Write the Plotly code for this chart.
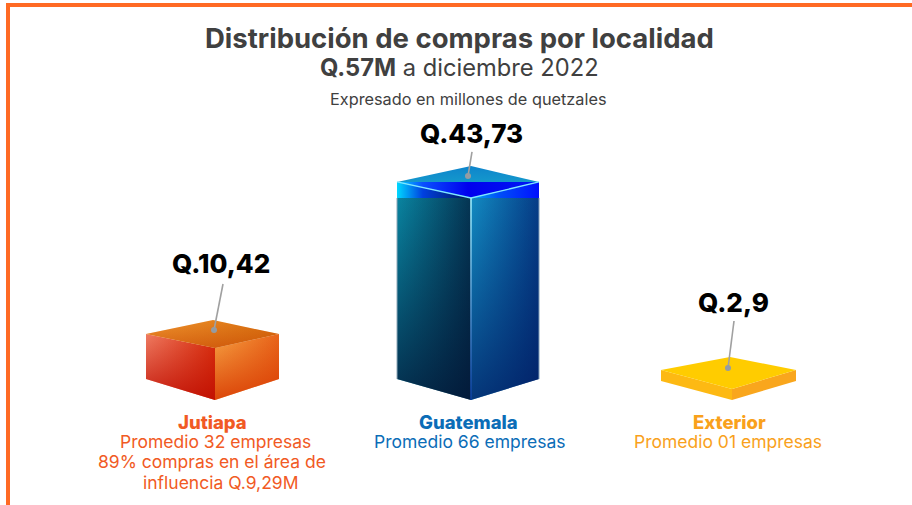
import plotly.graph_objects as go

# ---------- data ----------
categories = ["Jutiapa", "Guatemala", "Exterior"]
values = [10.42, 43.73, 2.9]
value_labels = ["Q.10,42", "Q.43,73", "Q.2,9"]
captions = [
    ["Promedio 32 empresas", "89% compras en el área de", "influencia Q.9,29M"],
    ["Promedio 66 empresas"],
    ["Promedio 01 empresas"],
]

# ---------- layout constants (pixels) ----------
W, H = 912, 505
BASE = 400            # pixel row of value 0
PX = 4.62             # pixels per value unit
FONT = "Inter, 'Open Sans', sans-serif"
TITLE_C = "#404040"
cat_colors = ["#F15A24", "#0B6DB7", "#F9A11B"]
exaggeration = [1.08, 1.0, 0.82]   # the infographic is not strictly to scale
geom = [
    dict(l=146, f=215, r=279, a=213, ctop=14, apex=28, cbot=21),
    dict(l=397, f=471, r=539, a=471, ctop=16, apex=32, cbot=21),
    dict(l=661, f=732, r=796, a=730, ctop=19, apex=32, cbot=19),
]
label_pos = [(221, 263), (471, 133), (733, 302)]
leaders = [(9, -46), (4, -24), (6, -47)]
dots = [(1, -4), (-3, -6), (-2, -5)]
cat_x = [212, 468, 729]
line_x = [[215, 212, 220], [470], [728]]


def u(px):
    return px / PX


fig = go.Figure()


def poly(xs, ys, c0, c1=None, mid=None, kind="horizontal", overlay=None):
    xs = list(xs) + [xs[0]]
    ys = list(ys) + [ys[0]]
    scale = [[0, c0], [1, c1 or c0]]
    if mid:
        scale = [[0, c0]] + mid + [[1, c1]]
    fig.add_trace(go.Scatter(x=xs, y=ys, mode="lines", line=dict(width=0), fill="toself",
                             fillgradient=dict(type=kind, colorscale=scale),
                             hoverinfo="skip", showlegend=False))
    if overlay:
        fig.add_trace(go.Scatter(x=xs, y=ys, mode="lines", line=dict(width=0), fill="toself",
                                 fillgradient=dict(type="vertical",
                                                   colorscale=[[0, overlay[1]], [1, overlay[0]]]),
                                 hoverinfo="skip", showlegend=False))


def seg(xs, ys, color, width):
    fig.add_trace(go.Scatter(x=xs, y=ys, mode="lines", line=dict(color=color, width=width),
                             hoverinfo="skip", showlegend=False))


for i, v in enumerate(values):
    g = geom[i]
    top = v * exaggeration[i]
    ctop, apex, cbot = top + u(g["ctop"]), top + u(g["apex"]), u(g["cbot"])
    L = ([g["l"], g["f"], g["f"], g["l"]], [ctop, top, 0, cbot])
    R = ([g["f"], g["r"], g["r"], g["f"]], [top, ctop, cbot, 0])
    T = ([g["l"], g["a"], g["r"], g["f"]], [ctop, apex, ctop, top])
    if i == 0:
        poly(*L, "#EF7C62", "#D9300F", overlay=("rgba(190,12,0,0)", "rgba(190,12,0,0.85)"))
        poly(*R, "#F7A544", "#E8641A", overlay=("rgba(215,55,0,0)", "rgba(215,55,0,0.85)"))
        poly(*T, "#F0962F", "#D8700F", overlay=("rgba(196,64,0,0)", "rgba(196,64,0,0.55)"))
    elif i == 1:
        poly(*L, "#0A8CA8", "#053654", overlay=("rgba(2,18,50,0)", "rgba(2,18,50,0.78)"))
        poly(*R, "#1392C8", "#063E88", overlay=("rgba(0,25,95,0)", "rgba(0,25,95,0.75)"))
        seg([g["l"], g["l"]], [top, cbot], "#8FA8B8", 1)
        seg([g["r"], g["r"]], [top, cbot], "#7F9CB8", 1)
        # cap
        poly([g["l"], g["a"], g["r"]], [ctop, apex, ctop], "#1498CC", "#0E84CC", kind="vertical")
        poly([g["l"], g["r"], g["f"]], [ctop, ctop, top], "#00DCFF", "#0018F4",
             mid=[[0.18, "#0A50FF"], [0.5, "#0000EE"]])
        poly([g["l"], g["f"], g["l"]], [ctop, top, top], "#00D8FF", "#001550",
             mid=[[0.35, "#0040E0"]])
        poly([g["f"], g["r"], g["r"]], [top, ctop, top], "#00B0F0", "#0010FF",
             mid=[[0.4, "#0050F8"]])
        seg([g["l"], g["f"], g["r"]], [ctop, top, ctop], "#7FE8FF", 1.3)
        # front edge highlight
        poly([g["f"] - 0.8, g["f"] + 0.8, g["f"] + 0.8, g["f"] - 0.8], [top, top, 0, 0],
             "#0A3FA0", "#9FF0FF", kind="vertical")
    else:
        poly(*L, "#FDB913")
        poly(*R, "#F9A61D")
        poly(*T, "#FFCC00")

    # leader and dot
    dx, dy = dots[i]
    cx = g["a"] + dx
    cy = top + u(g["apex"] / 2 - dy)
    lx, ly = leaders[i]
    seg([cx, cx + lx], [cy, cy - u(ly)], "#A0A0A0", 1.6)
    fig.add_trace(go.Scatter(x=[cx], y=[cy], mode="markers",
                             marker=dict(color="#949CA3", size=6), hoverinfo="skip", showlegend=False))


def text(x, py, s, size, color, weight=400):
    fig.add_annotation(x=x, y=u(BASE - py), text=s, showarrow=False, xanchor="center", yanchor="middle",
                       font=dict(family=FONT, size=size, color=color, weight=weight))


# value labels
for (x, py), s in zip(label_pos, value_labels):
    text(x, py, s, 26, "#000000", 800)

# category captions
for i, c in enumerate(categories):
    text(cat_x[i], 421.5, c, 18.5, cat_colors[i], 800)
    for j, line in enumerate(captions[i]):
        text(line_x[i][j], 441.5 + j * 20.3, line, 17.5, cat_colors[i])

# titles
text(459, 38, "Distribución de compras por localidad", 27.5, TITLE_C, 700)
text(459, 67, "<b>Q.57M</b> a diciembre 2022", 23.7, TITLE_C)
text(468, 99, "Expresado en millones de quetzales", 16.3, TITLE_C)

# frame
ORANGE = "#FF6A24"
frame = [(6, 3, W, 7), (6, 3, 10, H)]
for x0, y0, x1, y1 in frame:
    fig.add_shape(type="rect", xref="x", yref="y", x0=x0, x1=x1,
                  y0=u(BASE - y0), y1=u(BASE - y1), fillcolor=ORANGE, line_width=0)

fig.update_layout(
    width=W, height=H, margin=dict(l=0, r=0, t=0, b=0),
    paper_bgcolor="white", plot_bgcolor="white", showlegend=False,
    xaxis=dict(range=[0, W], visible=False, fixedrange=True),
    yaxis=dict(range=[u(BASE - H), u(BASE)], visible=False, fixedrange=True),
)
fig.write_html("out.html", config=dict(displayModeBar=False),
               post_script="document.body.style.margin='0';document.documentElement.style.overflow='hidden';")
